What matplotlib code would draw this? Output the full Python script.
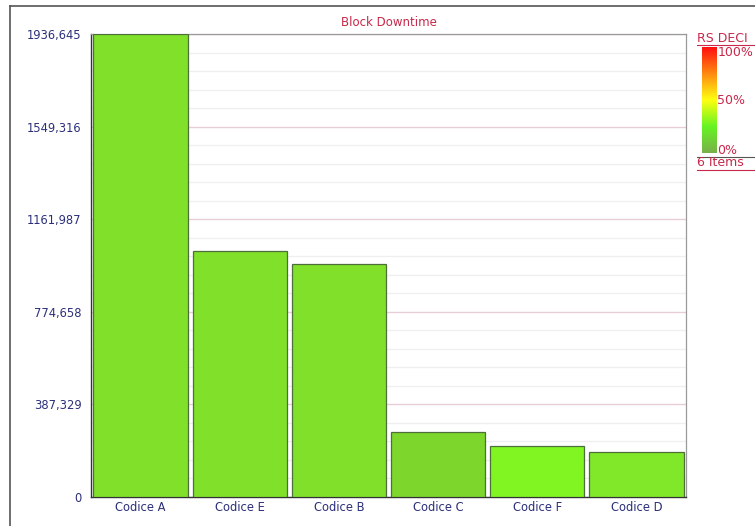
import matplotlib
matplotlib.use("Agg")
import matplotlib.pyplot as plt
import numpy as np
from matplotlib.colors import LinearSegmentedColormap
from matplotlib.ticker import FixedLocator

categories = ["Codice A", "Codice E", "Codice B", "Codice C", "Codice F", "Codice D"]
values = [1936645, 1027000, 975000, 273000, 213000, 189500]
bar_colors = ["#80E02A", "#80E02A", "#80E02A", "#7CD62C", "#80F522", "#80E828"]
y_ticks = [0, 387329, 774658, 1161987, 1549316, 1936645]
y_tick_labels = ["0", "387,329", "774,658", "1161,987", "1549,316", "1936,645"]
title = "Block Downtime"
legend_title = "RS DECI"
legend_ticks = ["100%", "50%", "0%"]
item_count = "6 Items"

W, H = 755, 526
fig = plt.figure(figsize=(W / 100, H / 100), dpi=100)
fig.patch.set_facecolor("white")

def fx(px):
    return px / W

def fy(py):
    return 1 - py / H

# outer frame (left and top edges)
fig.add_artist(plt.Line2D([fx(9.5), fx(9.5)], [fy(6), fy(526)], color="#555555", lw=1.2))
fig.add_artist(plt.Line2D([fx(9.5), fx(755)], [fy(6), fy(6)], color="#555555", lw=1.2))

ax = fig.add_axes([fx(91), fy(497), fx(686) - fx(91), fy(34) - fy(497)])
x = np.arange(len(categories))
ax.bar(x, values, width=0.95, color=bar_colors, edgecolor="#4F6F3A", linewidth=0.9, zorder=3)
ax.set_xlim(-0.5, len(categories) - 0.5)
ax.set_ylim(0, y_ticks[-1])

# minor grid: five steps per major interval, skipping the major positions
step = y_ticks[1] / 5
minor = [y_ticks[i] + k * step for i in range(len(y_ticks) - 1) for k in range(1, 5)]
ax.yaxis.set_major_locator(FixedLocator(y_ticks))
ax.yaxis.set_minor_locator(FixedLocator(minor))
ax.set_yticklabels(y_tick_labels)
ax.grid(axis="y", which="major", color="#E8CDD5", lw=1.0, zorder=0)
ax.grid(axis="y", which="minor", color="#EFEFEF", lw=0.9, zorder=0)
ax.set_xticks(x)
ax.set_xticklabels(categories)
ax.tick_params(axis="both", which="both", length=0, colors="#2B2F7A", labelsize=8.3)
ax.tick_params(axis="y", pad=7)
ax.tick_params(axis="x", pad=3)
for side in ("top", "right"):
    ax.spines[side].set_color("#9A9A9A")
    ax.spines[side].set_linewidth(0.9)
for side in ("left", "bottom"):
    ax.spines[side].set_color("#333333")
    ax.spines[side].set_linewidth(1.0)

fig.text(fx(389), fy(22), title, color="#C8284A", fontsize=8.5, ha="center", va="center")

# colour scale legend
cmap = LinearSegmentedColormap.from_list(
    "rs", [(0.0, "#79B04A"), (0.25, "#66F422"), (0.5, "#FFFF10"), (0.75, "#FF8A10"), (1.0, "#FF0F0F")])
cax = fig.add_axes([fx(702), fy(153), fx(717) - fx(702), fy(47) - fy(153)])
grad = np.linspace(0, 1, 256).reshape(-1, 1)
cax.imshow(grad, aspect="auto", cmap=cmap, origin="lower", extent=[0, 1, 0, 1])
cax.set_axis_off()

leg_color = "#C8284A"
fig.text(fx(697), fy(38.5), legend_title, color=leg_color, fontsize=9, ha="left", va="center")
fig.add_artist(plt.Line2D([fx(697), fx(755)], [fy(44.5), fy(44.5)], color=leg_color, lw=0.8))
fig.text(fx(717.5), fy(52), legend_ticks[0], color=leg_color, fontsize=9, ha="left", va="center")
fig.text(fx(717.5), fy(101), legend_ticks[1], color=leg_color, fontsize=9, ha="left", va="center")
fig.text(fx(717.5), fy(150), legend_ticks[2], color=leg_color, fontsize=9, ha="left", va="center")
fig.add_artist(plt.Line2D([fx(697), fx(755)], [fy(156.5), fy(156.5)], color="#555555", lw=0.8))
fig.text(fx(697), fy(162.5), item_count, color=leg_color, fontsize=9, ha="left", va="center")
fig.add_artist(plt.Line2D([fx(697), fx(755)], [fy(169.5), fy(169.5)], color=leg_color, lw=0.8))

fig.savefig("out.png", dpi=100, facecolor="white")
